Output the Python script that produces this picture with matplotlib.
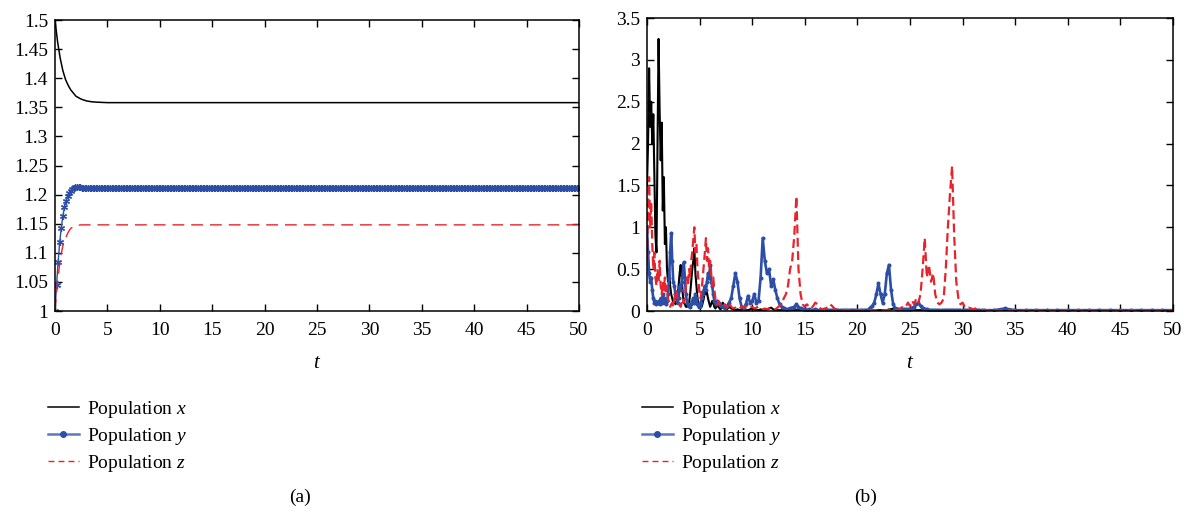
import numpy as np
import matplotlib
matplotlib.use("Agg")
import matplotlib.pyplot as plt
from matplotlib.lines import Line2D
from matplotlib.ticker import FuncFormatter, MultipleLocator

plt.rcParams['font.family'] = ['Liberation Serif', 'DejaVu Serif']
plt.rcParams['mathtext.fontset'] = 'custom'
plt.rcParams['mathtext.it'] = 'Liberation Serif:italic'
plt.rcParams['mathtext.rm'] = 'Liberation Serif'

# ---------------- Panel (a) data ----------------
ta_x = [0, 0.25, 0.5, 0.75, 1.0, 1.25, 1.5, 2.0, 2.5, 3.0, 3.5, 4.0, 5.0, 50]
a_x = [1.5, 1.462, 1.434, 1.413, 1.398, 1.388, 1.380, 1.369, 1.364, 1.361, 1.3595, 1.3588, 1.358, 1.358]

a_y_rise = [1.0, 1.045, 1.085, 1.118, 1.143, 1.163, 1.178, 1.189, 1.197, 1.203, 1.207,
            1.210, 1.212, 1.213, 1.213, 1.213, 1.213, 1.212, 1.212, 1.212, 1.211]
a_y_plateau = 1.211
a_y_step = 0.15

ta_z = [0, 0.25, 0.5, 0.75, 1.0, 1.25, 1.5, 2.0, 2.5, 50]
a_z = [1.0, 1.05, 1.09, 1.112, 1.125, 1.135, 1.142, 1.147, 1.148, 1.148]

# ---------------- Panel (b) data ----------------
# segment 1: t = 0.0 .. 7.0 step 0.1 ; segment 2: t = 7.2 .. 32.0 step 0.2 ; segment 3: t = 33 .. 50 step 1
b_x_seg1 = [1.5, 2.0, 2.9, 2.2, 2.5, 2.0, 2.35, 1.6, 0.9, 0.7,
            2.0, 3.25, 2.4, 1.8, 2.25, 1.2, 1.6, 0.8, 1.0, 0.5,
            0.35, 0.5, 0.3, 0.2, 0.15, 0.1, 0.12, 0.08, 0.1, 0.15,
            0.3, 0.45, 0.55, 0.4, 0.2, 0.1, 0.08, 0.05, 0.05, 0.08,
            0.1, 0.2, 0.35, 0.5, 0.6, 0.75, 0.45, 0.3, 0.15, 0.08,
            0.05, 0.04, 0.05, 0.1, 0.15, 0.25, 0.2, 0.22, 0.15, 0.1,
            0.05, 0.08, 0.12, 0.1, 0.05, 0.03, 0.05, 0.1, 0.05, 0.03, 0.02]
b_x_seg2 = [0.1, 0.04, 0.02, 0.05, 0.03, 0.02, 0.01, 0.02, 0.01, 0.01,
            0.02, 0.01, 0.01, 0.02, 0.03, 0.02, 0.01, 0.01, 0.02, 0.01,
            0.01, 0.02, 0.03, 0.04, 0.02, 0.01, 0.01, 0.01, 0.01, 0.01,
            0.01, 0.01, 0.01, 0.01, 0.01, 0.01, 0.01, 0.01, 0.01, 0.01,
            0.01, 0.01, 0.01, 0.01, 0.01, 0.01, 0.01, 0.01, 0.01, 0.01,
            0.01, 0.01, 0.01, 0.01, 0.01, 0.01, 0.01, 0.01, 0.01, 0.01,
            0.01, 0.01, 0.01, 0.01, 0.01, 0.01, 0.01, 0.01, 0.01, 0.01,
            0.01, 0.01, 0.01, 0.01, 0.01, 0.01, 0.01, 0.01, 0.01, 0.02,
            0.02, 0.03, 0.02, 0.03, 0.02, 0.02, 0.01, 0.01, 0.01, 0.01,
            0.01, 0.01, 0.01, 0.01, 0.01, 0.01, 0.01, 0.01, 0.01, 0.01,
            0.01, 0.01, 0.01, 0.01, 0.01, 0.01, 0.01, 0.01, 0.01, 0.01,
            0.01, 0.01, 0.01, 0.01, 0.01, 0.01, 0.01, 0.01, 0.01, 0.01,
            0.01, 0.01, 0.01, 0.01, 0.01]
b_x_seg3 = [0.005, 0.005, 0.005, 0.005, 0.005, 0.005, 0.005, 0.005, 0.005,
            0.005, 0.005, 0.005, 0.005, 0.005, 0.005, 0.005, 0.005, 0.005]

b_y_seg1 = [1.0, 0.7, 0.45, 0.35, 0.4, 0.25, 0.15, 0.1, 0.12, 0.08,
            0.1, 0.12, 0.08, 0.15, 0.1, 0.2, 0.15, 0.1, 0.08, 0.12,
            0.2, 0.4, 0.7, 0.93, 0.6, 0.35, 0.3, 0.2, 0.15, 0.1,
            0.15, 0.3, 0.25, 0.35, 0.45, 0.58, 0.4, 0.2, 0.1, 0.08,
            0.06, 0.05, 0.08, 0.12, 0.15, 0.1, 0.2, 0.15, 0.08, 0.05,
            0.06, 0.1, 0.15, 0.2, 0.25, 0.3, 0.25, 0.35, 0.45, 0.4,
            0.55, 0.35, 0.3, 0.2, 0.12, 0.1, 0.08, 0.12, 0.1, 0.08, 0.06]
b_y_seg2 = [0.05, 0.04, 0.06, 0.1, 0.15, 0.3, 0.45, 0.35, 0.15, 0.05,
            0.04, 0.08, 0.18, 0.1, 0.12, 0.2, 0.1, 0.12, 0.4, 0.87,
            0.6, 0.45, 0.5, 0.3, 0.38, 0.25, 0.15, 0.08, 0.05, 0.03,
            0.02, 0.02, 0.03, 0.04, 0.05, 0.08, 0.05, 0.03, 0.02, 0.02,
            0.01, 0.02, 0.01, 0.01, 0.02, 0.01, 0.01, 0.01, 0.02, 0.01,
            0.01, 0.01, 0.01, 0.01, 0.01, 0.01, 0.01, 0.01, 0.01, 0.01,
            0.01, 0.01, 0.01, 0.01, 0.01, 0.01, 0.01, 0.01, 0.01, 0.01,
            0.04, 0.06, 0.1, 0.2, 0.33, 0.2, 0.1, 0.2, 0.45, 0.55,
            0.25, 0.08, 0.03, 0.02, 0.02, 0.02, 0.02, 0.02, 0.02, 0.02,
            0.04, 0.05, 0.08, 0.1, 0.06, 0.03, 0.02, 0.02, 0.01, 0.01,
            0.01, 0.01, 0.01, 0.01, 0.01, 0.01, 0.01, 0.01, 0.01, 0.01,
            0.01, 0.01, 0.01, 0.01, 0.01, 0.01, 0.01, 0.01, 0.01, 0.01,
            0.01, 0.01, 0.01, 0.01, 0.01]
b_y_seg3 = [0.01, 0.03, 0.01, 0.01, 0.01, 0.01, 0.01, 0.01, 0.01,
            0.01, 0.01, 0.01, 0.01, 0.01, 0.01, 0.01, 0.01, 0.01]

b_z_seg1 = [0.6, 1.2, 1.6, 1.0, 1.3, 0.8, 0.5, 0.7, 0.4, 0.3,
            0.5, 0.35, 0.6, 0.3, 0.2, 0.35, 0.25, 0.4, 0.2, 0.3,
            0.15, 0.1, 0.05, 0.08, 0.1, 0.05, 0.15, 0.2, 0.25, 0.15,
            0.1, 0.08, 0.05, 0.1, 0.15, 0.1, 0.15, 0.3, 0.4, 0.3,
            0.5, 0.4, 0.6, 0.7, 0.85, 1.0, 0.7, 0.8, 0.5, 0.35,
            0.2, 0.15, 0.25, 0.4, 0.55, 0.7, 0.87, 0.6, 0.75, 0.5,
            0.6, 0.45, 0.3, 0.4, 0.25, 0.15, 0.1, 0.08, 0.12, 0.08, 0.05]
b_z_seg2 = [0.05, 0.08, 0.04, 0.1, 0.05, 0.03, 0.04, 0.02, 0.03, 0.05,
            0.04, 0.06, 0.03, 0.04, 0.05, 0.03, 0.04, 0.05, 0.03, 0.02,
            0.03, 0.02, 0.03, 0.02, 0.03, 0.02, 0.04, 0.06, 0.1, 0.15,
            0.2, 0.3, 0.5, 0.6, 0.9, 1.37, 0.5, 0.2, 0.08, 0.05,
            0.08, 0.05, 0.03, 0.06, 0.1, 0.08, 0.04, 0.02, 0.02, 0.03,
            0.05, 0.08, 0.06, 0.03, 0.02, 0.01, 0.01, 0.01, 0.01, 0.01,
            0.01, 0.01, 0.01, 0.01, 0.01, 0.01, 0.01, 0.01, 0.01, 0.01,
            0.01, 0.01, 0.01, 0.01, 0.01, 0.01, 0.01, 0.01, 0.01, 0.01,
            0.01, 0.01, 0.01, 0.01, 0.02,
            0.04, 0.06, 0.05, 0.1, 0.06, 0.12, 0.08, 0.15, 0.1, 0.2,
            0.5, 0.87, 0.4, 0.55, 0.35, 0.45, 0.2, 0.1, 0.08, 0.1,
            0.15, 0.5, 1.0, 1.4, 1.73, 0.9, 0.35, 0.15, 0.08, 0.1,
            0.05, 0.03, 0.04, 0.03, 0.02, 0.03, 0.01, 0.01, 0.01, 0.01]
b_z_seg3 = [0.01, 0.01, 0.01, 0.01, 0.01, 0.01, 0.01, 0.01, 0.01,
            0.01, 0.01, 0.01, 0.01, 0.01, 0.01, 0.01, 0.01, 0.01]

tb = np.concatenate([np.round(np.arange(0, 71) * 0.1, 2),
                     np.round(7.2 + np.arange(0, 125) * 0.2, 2),
                     np.arange(33, 51, 1.0)])
b_x = np.array(b_x_seg1 + b_x_seg2 + b_x_seg3)
b_y = np.array(b_y_seg1 + b_y_seg2 + b_y_seg3)
b_z = np.array(b_z_seg1 + b_z_seg2 + b_z_seg3)

legend_labels = ['Population $x$', 'Population $y$', 'Population $z$']

BLACK = '#000000'
BLUE = '#2d4ea6'
RED = '#e8232b'
FS = 14

fig = plt.figure(figsize=(11.91, 5.16), dpi=100)
axa = fig.add_axes([55/1191, 205/516, 524/1191, 291/516])
axb = fig.add_axes([647/1191, 205/516, 526/1191, 293/516])

# panel a
axa.plot(ta_x, a_x, color=BLACK, lw=1.1)
ty = np.round(np.arange(0, 50.0001, a_y_step), 4)
a_y = np.array(a_y_rise + [a_y_plateau] * (len(ty) - len(a_y_rise)))
axa.plot(ty, a_y, color=BLUE, lw=1.0, marker=(6, 2, 0), markersize=5, markeredgewidth=0.9)
axa.plot(ta_z, a_z, color=RED, lw=1.0, dashes=(8.5, 5))
axa.set_xlim(0, 50)
axa.set_ylim(1, 1.5)
axa.yaxis.set_major_locator(MultipleLocator(0.05))

# panel b
axb.plot(tb, b_x, color=BLACK, lw=1.5)
axb.plot(tb, b_y, color=BLUE, lw=1.9, marker='.', markersize=3.8)
axb.plot(tb, b_z, color=RED, lw=1.6, dashes=(4, 2))
axb.set_xlim(0, 50)
axb.set_ylim(0, 3.5)
axb.yaxis.set_major_locator(MultipleLocator(0.5))

fmt = FuncFormatter(lambda v, p: '%g' % round(v, 4))
for ax in (axa, axb):
    ax.xaxis.set_major_locator(MultipleLocator(5))
    ax.xaxis.set_major_formatter(fmt)
    ax.yaxis.set_major_formatter(fmt)
    ax.tick_params(direction='in', top=True, right=True, length=5, width=1,
                   labelsize=FS)
    ax.tick_params(axis='x', pad=8)
    ax.tick_params(axis='y', pad=5)
    for s in ax.spines.values():
        s.set_linewidth(1.1)
    ax.set_xlabel('$t$', fontsize=FS + 1, labelpad=11)

handles = [Line2D([], [], color=BLACK, lw=1.1),
           Line2D([], [], color='#5a78c4', lw=1.8, marker='o', markersize=4,
                  markerfacecolor=BLUE, markeredgecolor=BLUE),
           Line2D([], [], color=RED, lw=1.0, dashes=(4.3, 2.9))]

for x0 in (40/1191, 634/1191):
    fig.legend(handles, legend_labels, loc='upper left', bbox_to_anchor=(x0, 0.242),
               frameon=False, fontsize=FS, handlelength=1.6, handletextpad=0.42,
               labelspacing=0.3, borderaxespad=0)

fig.text(300/1191, 19/516, '(a)', ha='center', va='center', fontsize=FS)
fig.text(866/1191, 19/516, '(b)', ha='center', va='center', fontsize=FS)

fig.savefig('out.png', dpi=100)
